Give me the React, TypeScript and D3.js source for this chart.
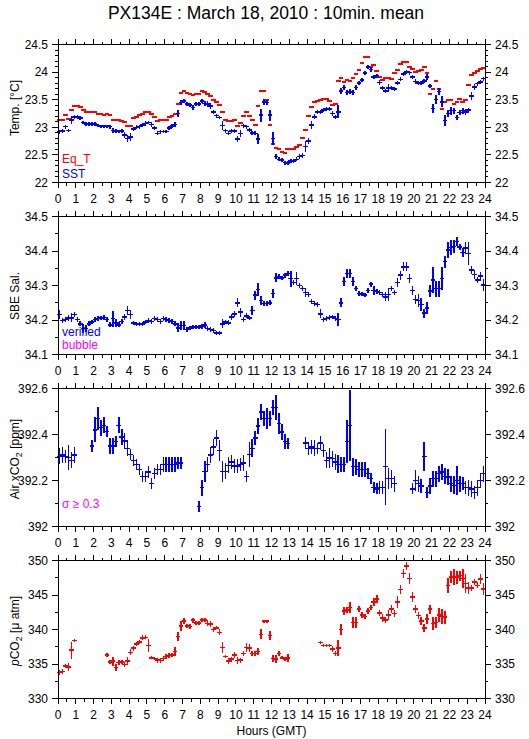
import React from "react";
import * as d3 from "d3";

// ---------- data (10-min means, index i -> hour (i+0.5)/6) ----------
const hours = d3.range(0, 25);

const eqT = [
  23.13, 23.13, 23.22, 23.15, 23.31, 23.39, 23.39, 23.37, 23.31, 23.27, 23.27, 23.27,
  23.27, 23.24, 23.24, 23.22, 23.24, 23.22, 23.14, 23.14, 23.14, 23.12, 23.09, 23.03,
  23.03, 23.16, 23.19, 23.22, 23.24, 23.28, 23.28, 23.24, 23.19, 23.12, 23.13, 23.13,
  23.13, 23.18, 23.21, 23.25, 23.43, 23.62, 23.66, 23.62, 23.6, 23.58, 23.61, 23.61,
  23.66, 23.64, 23.61, 23.56, 23.5, 23.45, 23.4, 23.28, 23.13, 23.11, 23.12, 23.14,
  23.02, 23.07, 23.21, 23.27, 23.2, 23.13, 23.05, 23.38, 23.66, 23.66, 23.49, 23.05,
  22.7, 22.62, 22.6, 22.56, 22.54, 22.6, 22.6, 22.61, 22.65, 22.68, 22.81, 22.95,
  23.2, 23.37, 23.46, 23.48, 23.5, 23.52, 23.52, 23.47, 23.4, 23.42, 23.84, 23.9,
  23.82, 23.85, 23.84, 23.9, 23.97, 24.04, 24.16, 24.27, 24.27, 24.1, 24.12, 24.02,
  23.92, 23.85, 23.9, 23.9, 23.88, 23.98, 24.04, 24.14, 24.18, 24.18, 24.1, 24.05,
  24.0, 24.02, 24.04, 24.09, 23.99, 23.6, 23.7, 23.84, 23.7, 23.34, 23.45, 23.5,
  23.5, 23.42, 23.46, 23.52, 23.46, 23.5, 23.76, 23.94, 23.98, 24.02, 24.06, 24.07,
];

const sst = [
  22.92, 22.93, 23.01, 22.94, 23.13, 23.19, 23.19, 23.17, 23.09, 23.06, 23.06, 23.06,
  23.06, 23.03, 23.02, 23.01, 23.02, 23.01, 22.94, 22.93, 22.93, 22.93, 22.86, 22.8,
  22.82, 22.97, 23.0, 23.01, 23.04, 23.07, 23.09, 23.05, 22.99, 22.89, 22.92, 22.92,
  22.92, 22.99, 23.02, 23.05, 23.25, 23.45, 23.48, 23.42, 23.4, 23.36, 23.42, 23.42,
  23.48, 23.43, 23.42, 23.39, 23.28, 23.21, 23.18, 23.03, 22.94, 22.89, 22.93, 22.93,
  22.79, 22.89, 23.03, 23.01, 22.95, 22.9, 22.89, 22.79, 23.22, 23.46, 23.45, 23.22,
  22.8, 22.47, 22.42, 22.41, 22.36, 22.35, 22.39, 22.39, 22.42, 22.47, 22.49, 22.65,
  22.75, 23.04, 23.19, 23.28, 23.28, 23.31, 23.33, 23.33, 23.25, 23.19, 23.28, 23.66,
  23.72, 23.63, 23.65, 23.63, 23.72, 23.8, 23.86, 23.98, 24.09, 24.05, 23.91, 23.93,
  23.81, 23.71, 23.66, 23.71, 23.71, 23.69, 23.8, 23.87, 23.97, 24.0, 23.99, 23.91,
  23.83, 23.8, 23.8, 23.84, 23.91, 23.75, 23.34, 23.5, 23.65, 23.46, 23.12, 23.25,
  23.3, 23.3, 23.18, 23.27, 23.3, 23.28, 23.31, 23.57, 23.73, 23.79, 23.82, 23.88,
];

const sstSd = [
  0.015, 0.015, 0.015, 0.015, 0.05, 0.02, 0.015, 0.015, 0.015, 0.015, 0.01, 0.01,
  0.01, 0.015, 0.01, 0.01, 0.01, 0.015, 0.03, 0.015, 0.01, 0.015, 0.03, 0.05,
  0.05, 0.02, 0.015, 0.015, 0.015, 0.02, 0.015, 0.02, 0.015, 0.02, 0.015, 0.01,
  0.01, 0.015, 0.015, 0.03, 0.04, 0.02, 0.02, 0.015, 0.015, 0.02, 0.015, 0.015,
  0.015, 0.02, 0.03, 0.04, 0.02, 0.02, 0.015, 0.06, 0.02, 0.02, 0.02, 0.02,
  0.04, 0.04, 0.02, 0.02, 0.02, 0.02, 0.02, 0.07, 0.1, 0.03, 0.03, 0.08,
  0.1, 0.03, 0.02, 0.02, 0.02, 0.02, 0.02, 0.02, 0.02, 0.02, 0.02, 0.08,
  0.04, 0.06, 0.03, 0.02, 0.02, 0.02, 0.02, 0.02, 0.02, 0.02, 0.1, 0.04,
  0.03, 0.02, 0.03, 0.02, 0.02, 0.02, 0.02, 0.02, 0.02, 0.03, 0.02, 0.02,
  0.02, 0.02, 0.02, 0.05, 0.02, 0.02, 0.02, 0.02, 0.02, 0.02, 0.02, 0.02,
  0.02, 0.02, 0.02, 0.02, 0.04, 0.02, 0.07, 0.06, 0.04, 0.08, 0.08, 0.05,
  0.05, 0.04, 0.03, 0.03, 0.04, 0.03, 0.03, 0.05, 0.04, 0.02, 0.02, 0.02,
];

const sal = [
  34.216, 34.199, 34.201, 34.206, 34.206, 34.216, 34.202, 34.189, 34.175, 34.175, 34.189, 34.194,
  34.202, 34.204, 34.206, 34.207, 34.201, 34.186, 34.204, 34.192, 34.186, 34.196, 34.209, 34.228,
  34.216, 34.191, 34.189, 34.189, 34.189, 34.194, 34.199, 34.196, 34.204, 34.202, 34.196, 34.204,
  34.202, 34.199, 34.196, 34.189, 34.177, 34.184, 34.184, 34.172, 34.177, 34.18, 34.18, 34.18,
  34.182, 34.186, 34.175, 34.173, 34.17, 34.163, 34.163, 34.189, 34.194, 34.192, 34.209, 34.218,
  34.25, 34.223, 34.202, 34.212, 34.206, 34.228, 34.272, 34.288, 34.257, 34.248, 34.248, 34.25,
  34.277, 34.322, 34.325, 34.322, 34.33, 34.335, 34.32, 34.309, 34.32, 34.3, 34.291, 34.28,
  34.274, 34.254, 34.248, 34.245, 34.218, 34.201, 34.204, 34.207, 34.209, 34.204, 34.201, 34.25,
  34.311, 34.335, 34.335, 34.311, 34.291, 34.277, 34.275, 34.272, 34.285, 34.304, 34.286, 34.282,
  34.28, 34.274, 34.267, 34.274, 34.291, 34.28, 34.309, 34.33, 34.354, 34.354, 34.32, 34.286,
  34.26, 34.257, 34.245, 34.22, 34.235, 34.284, 34.316, 34.291, 34.291, 34.32, 34.369, 34.403,
  34.41, 34.413, 34.427, 34.411, 34.396, 34.408, 34.393, 34.345, 34.332, 34.316, 34.327, 34.301,
];

const salSd = [
  0.01, 0.004, 0.004, 0.005, 0.01, 0.004, 0.004, 0.004, 0.01, 0.008, 0.004, 0.004,
  0.004, 0.004, 0.004, 0.004, 0.004, 0.004, 0.02, 0.008, 0.004, 0.004, 0.005, 0.01,
  0.01, 0.004, 0.003, 0.003, 0.003, 0.004, 0.004, 0.004, 0.004, 0.004, 0.004, 0.004,
  0.004, 0.004, 0.004, 0.004, 0.01, 0.01, 0.01, 0.004, 0.004, 0.004, 0.004, 0.004,
  0.004, 0.005, 0.004, 0.004, 0.004, 0.003, 0.003, 0.01, 0.004, 0.004, 0.005, 0.005,
  0.01, 0.01, 0.004, 0.004, 0.004, 0.01, 0.01, 0.015, 0.01, 0.004, 0.004, 0.004,
  0.01, 0.01, 0.004, 0.004, 0.004, 0.005, 0.02, 0.005, 0.015, 0.005, 0.004, 0.01,
  0.005, 0.004, 0.004, 0.003, 0.01, 0.004, 0.004, 0.004, 0.004, 0.004, 0.015, 0.01,
  0.01, 0.01, 0.01, 0.01, 0.005, 0.004, 0.003, 0.003, 0.005, 0.004, 0.01, 0.004,
  0.004, 0.004, 0.01, 0.015, 0.004, 0.005, 0.01, 0.01, 0.01, 0.01, 0.01, 0.01,
  0.01, 0.015, 0.015, 0.01, 0.015, 0.015, 0.035, 0.02, 0.02, 0.03, 0.015, 0.02,
  0.02, 0.015, 0.01, 0.005, 0.01, 0.015, 0.03, 0.01, 0.01, 0.005, 0.01, 0.015,
];

const xco2 = [
  392.305, 392.31, 392.305, 392.3, 392.288, 392.31, null, null, null, null, null, 392.35,
  392.42, 392.47, 392.43, 392.44, 392.414, 392.35, 392.35, 392.37, 392.44, 392.39, 392.372, 392.34,
  392.312, 392.288, 392.27, 392.248, 392.218, 392.218, 392.237, 392.186, 392.23, 392.247, 392.247, 392.27,
  392.27, 392.27, 392.27, 392.27, 392.276, 392.276, null, null, null, null, null, 392.087,
  392.169, 392.24, 392.27, 392.31, 392.346, 392.385, 392.33, 392.24, 392.24, 392.266, 392.28, 392.263,
  392.263, 392.27, 392.276, 392.218, 392.312, 392.34, 392.385, 392.436, 392.498, 392.47, 392.47, 392.47,
  392.517, 392.517, 392.447, 392.41, 392.37, 392.36, null, null, null, null, null, 392.363,
  392.34, 392.345, 392.34, 392.34, 392.363, 392.33, 392.288, 392.298, 392.295, 392.28, 392.27, 392.27,
  392.27, 392.37, 392.44, 392.26, 392.26, 392.248, 392.248, 392.248, 392.23, 392.208, 392.17, 392.164,
  392.17, 392.17, 392.26, 392.208, 392.208, 392.186, null, null, null, null, null, 392.164,
  392.2, 392.186, 392.176, 392.305, 392.147, 392.176, 392.208, 392.208, 392.23, 392.237, 392.218, 392.215,
  392.186, 392.179, 392.2, 392.186, 392.186, 392.169, 392.169, 392.164, 392.147, 392.169, 392.2, 392.23,
];

const xco2Sd = [
  0.03, 0.03, 0.025, 0.05, 0.03, 0.03, 0, 0, 0, 0, 0, 0.02,
  0.05, 0.045, 0.03, 0.03, 0.02, 0.03, 0.03, 0.02, 0.03, 0.03, 0.03, 0.03,
  0.02, 0.02, 0.02, 0.02, 0.02, 0.02, 0.02, 0.02, 0.02, 0.02, 0.02, 0.03,
  0.03, 0.03, 0.03, 0.03, 0.02, 0.02, 0, 0, 0, 0, 0, 0.02,
  0.03, 0.04, 0.03, 0.03, 0.03, 0.03, 0.04, 0.04, 0.03, 0.03, 0.025, 0.025,
  0.025, 0.025, 0.03, 0.02, 0.05, 0.035, 0.025, 0.03, 0.03, 0.03, 0.04, 0.03,
  0.03, 0.05, 0.04, 0.03, 0.03, 0.02, 0, 0, 0, 0, 0, 0.02,
  0.025, 0.025, 0.03, 0.02, 0.025, 0.025, 0.03, 0.04, 0.03, 0.03, 0.035, 0.03,
  0.03, 0.09, 0.15, 0.035, 0.03, 0.03, 0.03, 0.03, 0.02, 0.02, 0.02, 0.02,
  0.025, 0.025, 0.16, 0.04, 0.035, 0.03, 0, 0, 0, 0, 0, 0.02,
  0.04, 0.03, 0.025, 0.06, 0.02, 0.03, 0.03, 0.03, 0.03, 0.03, 0.03, 0.03,
  0.03, 0.035, 0.06, 0.03, 0.025, 0.025, 0.03, 0.03, 0.025, 0.03, 0.03, 0.03,
];

const pco2 = [
  333.8, 333.9, 334.7, 334.6, 337.0, 338.4, null, null, null, null, null, null,
  null, null, null, null, 336.3, 335.3, 335.4, 334.5, 335.2, 335.3, 334.9, 335.4,
  336.7, 337.3, 337.9, 338.2, 338.8, 338.85, 337.7, 335.9, 335.8, 335.55, 335.5, 335.8,
  336.1, 336.2, 336.3, 336.8, 339.0, 340.5, 341.2, 340.5, 340.4, 341.35, 340.95, 340.95,
  341.35, 341.35, 340.9, 340.8, 340.0, 340.25, 339.6, 337.4, 336.1, 335.4, 335.7, 336.3,
  335.5, 335.55, 336.5, 337.4, 337.3, 336.5, 336.5, 336.8, 339.3, 341.2, 341.2, 339.1,
  335.8, 335.7, 336.5, 335.9, 335.7, 335.9, null, null, null, null, null, null,
  null, null, null, null, 338.1, 337.7, 337.7, 337.7, 337.15, 336.5, 337.3, 340.0,
  342.66, 342.8, 343.2, 341.0, 341.0, 342.95, 342.1, 341.9, 342.7, 343.2, 344.0, 344.4,
  342.4, 341.7, 341.35, 342.1, 343.0, 342.3, 344.0, 345.8, 348.1, 349.2, 347.4, 344.7,
  342.95, 342.0, 341.2, 340.25, 341.5, 342.95, 340.9, 341.0, 342.1, 341.9, 341.8, 346.4,
  347.6, 347.6, 347.6, 347.8, 347.4, 346.7, 346.0, 346.0, 346.9, 346.4, 347.3, 345.9,
];

const pco2Sd = [
  0.2, 0.2, 0.2, 0.4, 1.1, 0.1, 0, 0, 0, 0, 0, 0,
  0, 0, 0, 0, 0.15, 0.2, 0.5, 0.3, 0.2, 0.2, 0.2, 0.4,
  0.3, 0.2, 0.15, 0.15, 0.2, 0.15, 0.8, 0.1, 0.1, 0.2, 0.2, 0.2,
  0.2, 0.2, 0.15, 0.5, 0.5, 0.6, 0.3, 0.15, 0.2, 0.2, 0.1, 0.1,
  0.15, 0.15, 0.3, 0.3, 0.15, 0.1, 0.3, 0.6, 0.1, 0.3, 0.2, 0.3,
  0.3, 0.2, 0.2, 0.5, 0.4, 0.2, 0.2, 0.4, 0.6, 0.1, 0.1, 0.5,
  0.4, 0.4, 0.2, 0.1, 0.1, 0.4, 0, 0, 0, 0, 0, 0,
  0, 0, 0, 0, 0.1, 0.05, 0.1, 0.1, 0.3, 0.2, 1.0, 0.7,
  0.4, 0.3, 0.6, 0.6, 0.6, 0.3, 0.3, 0.2, 0.3, 0.2, 0.4, 0.4,
  0.3, 0.4, 0.3, 0.6, 0.4, 0.4, 0.7, 0.5, 0.5, 0.4, 0.6, 0.6,
  0.4, 0.4, 0.4, 0.4, 0.6, 0.5, 0.8, 0.7, 0.8, 0.9, 0.8, 0.9,
  0.7, 1.0, 0.8, 0.6, 1.2, 1.2, 0.7, 0.3, 0.3, 0.3, 0.6, 0.7,
];

const tempTicks = [22, 22.5, 23, 23.5, 24, 24.5];
const tempMinor = d3.range(22, 24.51, 0.1);
const salTicks = [34.1, 34.2, 34.3, 34.4, 34.5];
const salMinor = d3.range(34.1, 34.501, 0.05);
const xco2Ticks = [392, 392.2, 392.4, 392.6];
const xco2Minor = d3.range(392, 392.601, 0.1);
const pco2Ticks = [330, 335, 340, 345, 350];
const pco2Minor = d3.range(330, 350.1, 2.5);

// ---------- layout ----------
const W = 529;
const H = 739;
const X0 = 58;
const X1 = 485;
const PH = 138;
const FONT = "'Liberation Sans', Arial, Helvetica, sans-serif";
const BLUE = "#0000ff";
const RED = "#ff0000";
const MAG = "#ff00ff";

const x = d3.scaleLinear().domain([0, 24]).range([X0, X1]);
const tOf = (i: number) => (i + 0.5) / 6;
const HW = 0.13; // half width of the 10-min marks, hours

type PanelProps = {
  top: number;
  domain: [number, number];
  ticks: number[];
  minor: number[];
  fmt: (v: number) => string;
  children: (y: d3.ScaleLinear<number, number>) => React.ReactNode;
};

function Panel({ top, domain, ticks, minor, fmt, children }: PanelProps) {
  const y = d3.scaleLinear().domain(domain).range([top + PH, top]);
  const bot = top + PH;
  const minorX = d3.range(0.5, 24, 1);
  return (
    <g>
      {children(y)}
      <rect x={X0} y={top} width={X1 - X0} height={PH} fill="none" stroke="#000" strokeWidth={1} shapeRendering="crispEdges" />
      {hours.map((h) => (
        <g key={"h" + h} stroke="#000" shapeRendering="crispEdges">
          <line x1={x(h)} x2={x(h)} y1={top} y2={top - 6} />
          <line x1={x(h)} x2={x(h)} y1={bot} y2={bot + 5} />
        </g>
      ))}
      {minorX.map((h) => (
        <g key={"m" + h} stroke="#000" shapeRendering="crispEdges">
          <line x1={x(h)} x2={x(h)} y1={top} y2={top - 3} />
          <line x1={x(h)} x2={x(h)} y1={bot} y2={bot + 3} />
        </g>
      ))}
      {hours.map((h) => (
        <text key={"l" + h} x={x(h)} y={bot + 20} textAnchor="middle" fontSize={12} fontFamily={FONT}>
          {h}
        </text>
      ))}
      {minor.map((v, k) => (
        <g key={"ym" + k} stroke="#000" shapeRendering="crispEdges">
          <line x1={X0} x2={X0 - 3} y1={y(v)} y2={y(v)} />
          <line x1={X1} x2={X1 + 3} y1={y(v)} y2={y(v)} />
        </g>
      ))}
      {ticks.map((v) => (
        <g key={"yt" + v}>
          <line x1={X0} x2={X0 - 6} y1={y(v)} y2={y(v)} stroke="#000" shapeRendering="crispEdges" />
          <line x1={X1} x2={X1 + 6} y1={y(v)} y2={y(v)} stroke="#000" shapeRendering="crispEdges" />
          <text x={X0 - 10} y={y(v)} dy="0.36em" textAnchor="end" fontSize={12} fontFamily={FONT}>
            {fmt(v)}
          </text>
          <text x={X1 + 10} y={y(v)} dy="0.36em" textAnchor="start" fontSize={12} fontFamily={FONT}>
            {fmt(v)}
          </text>
        </g>
      ))}
    </g>
  );
}

function Crosses({ vals, sd, y, color }: { vals: (number | null)[]; sd: number[]; y: d3.ScaleLinear<number, number>; color: string }) {
  return (
    <g stroke={color} strokeWidth={1.5} shapeRendering="crispEdges">
      {vals.map((v, i) =>
        v == null ? null : (
          <g key={i}>
            <line x1={x(tOf(i) - HW)} x2={x(tOf(i) + HW)} y1={y(v)} y2={y(v)} />
            <line x1={x(tOf(i))} x2={x(tOf(i))} y1={y(v - sd[i]) + 1} y2={y(v + sd[i]) - 1} />
          </g>
        )
      )}
    </g>
  );
}

function Dashes({ vals, y, color }: { vals: number[]; y: d3.ScaleLinear<number, number>; color: string }) {
  return (
    <g stroke={color} strokeWidth={2} shapeRendering="crispEdges">
      {vals.map((v, i) => (
        <line key={i} x1={x(tOf(i) - HW)} x2={x(tOf(i) + HW)} y1={y(v)} y2={y(v)} />
      ))}
    </g>
  );
}

const tops = [44.5, 216.5, 388.5, 560.5];

function YLabel({ cy, children }: { cy: number; children: React.ReactNode }) {
  return (
    <text transform={`translate(19,${cy}) rotate(-90)`} textAnchor="middle" fontSize={12} fontFamily={FONT}>
      {children}
    </text>
  );
}

export default function App() {
  const f1 = (v: number) => d3.format("")(+v.toFixed(1));
  return (
    <svg width={W} height={H} style={{ position: "fixed", left: 0, top: 0, background: "#fff" }}>
      <rect width={W} height={H} fill="#fff" />
      <text x={266} y={19} textAnchor="middle" fontSize={17.5} fontFamily={FONT}>
        PX134E : March 18, 2010 : 10min. mean
      </text>

      <Panel top={tops[0]} domain={[22, 24.5]} ticks={tempTicks} minor={tempMinor} fmt={f1}>
        {(y) => (
          <g>
            <Dashes vals={eqT} y={y} color={RED} />
            <Crosses vals={sst} sd={sstSd} y={y} color={BLUE} />
          </g>
        )}
      </Panel>
      <YLabel cy={108}>Temp. [°C]</YLabel>
      <text x={62} y={163} fontSize={12} fontFamily={FONT} fill={RED}>Eq_T</text>
      <text x={62} y={178} fontSize={12} fontFamily={FONT} fill={BLUE}>SST</text>

      <Panel top={tops[1]} domain={[34.1, 34.5]} ticks={salTicks} minor={salMinor} fmt={f1}>
        {(y) => <Crosses vals={sal} sd={salSd} y={y} color={BLUE} />}
      </Panel>
      <YLabel cy={296}>SBE Sal.</YLabel>
      <text x={62} y={336} fontSize={12} fontFamily={FONT} fill={BLUE}>verified</text>
      <text x={62} y={349} fontSize={12} fontFamily={FONT} fill={MAG}>bubble</text>

      <Panel top={tops[2]} domain={[392, 392.6]} ticks={xco2Ticks} minor={xco2Minor} fmt={f1}>
        {(y) => <Crosses vals={xco2} sd={xco2Sd} y={y} color={BLUE} />}
      </Panel>
      <YLabel cy={459}>
        Air xCO<tspan dy="3" fontSize={9}>2</tspan><tspan dy="-3"> [ppm]</tspan>
      </YLabel>
      <text x={62} y={508} fontSize={12} fontFamily={FONT} fill={MAG}>σ ≥ 0.3</text>

      <Panel top={tops[3]} domain={[330, 350]} ticks={pco2Ticks} minor={pco2Minor} fmt={f1}>
        {(y) => <Crosses vals={pco2} sd={pco2Sd} y={y} color={RED} />}
      </Panel>
      <YLabel cy={631}>
        <tspan fontStyle="italic">p</tspan>CO<tspan dy="3" fontSize={9}>2</tspan><tspan dy="-3"> [μ atm]</tspan>
      </YLabel>
      <text x={(X0 + X1) / 2} y={735} textAnchor="middle" fontSize={12} fontFamily={FONT}>
        Hours (GMT)
      </text>
    </svg>
  );
}
